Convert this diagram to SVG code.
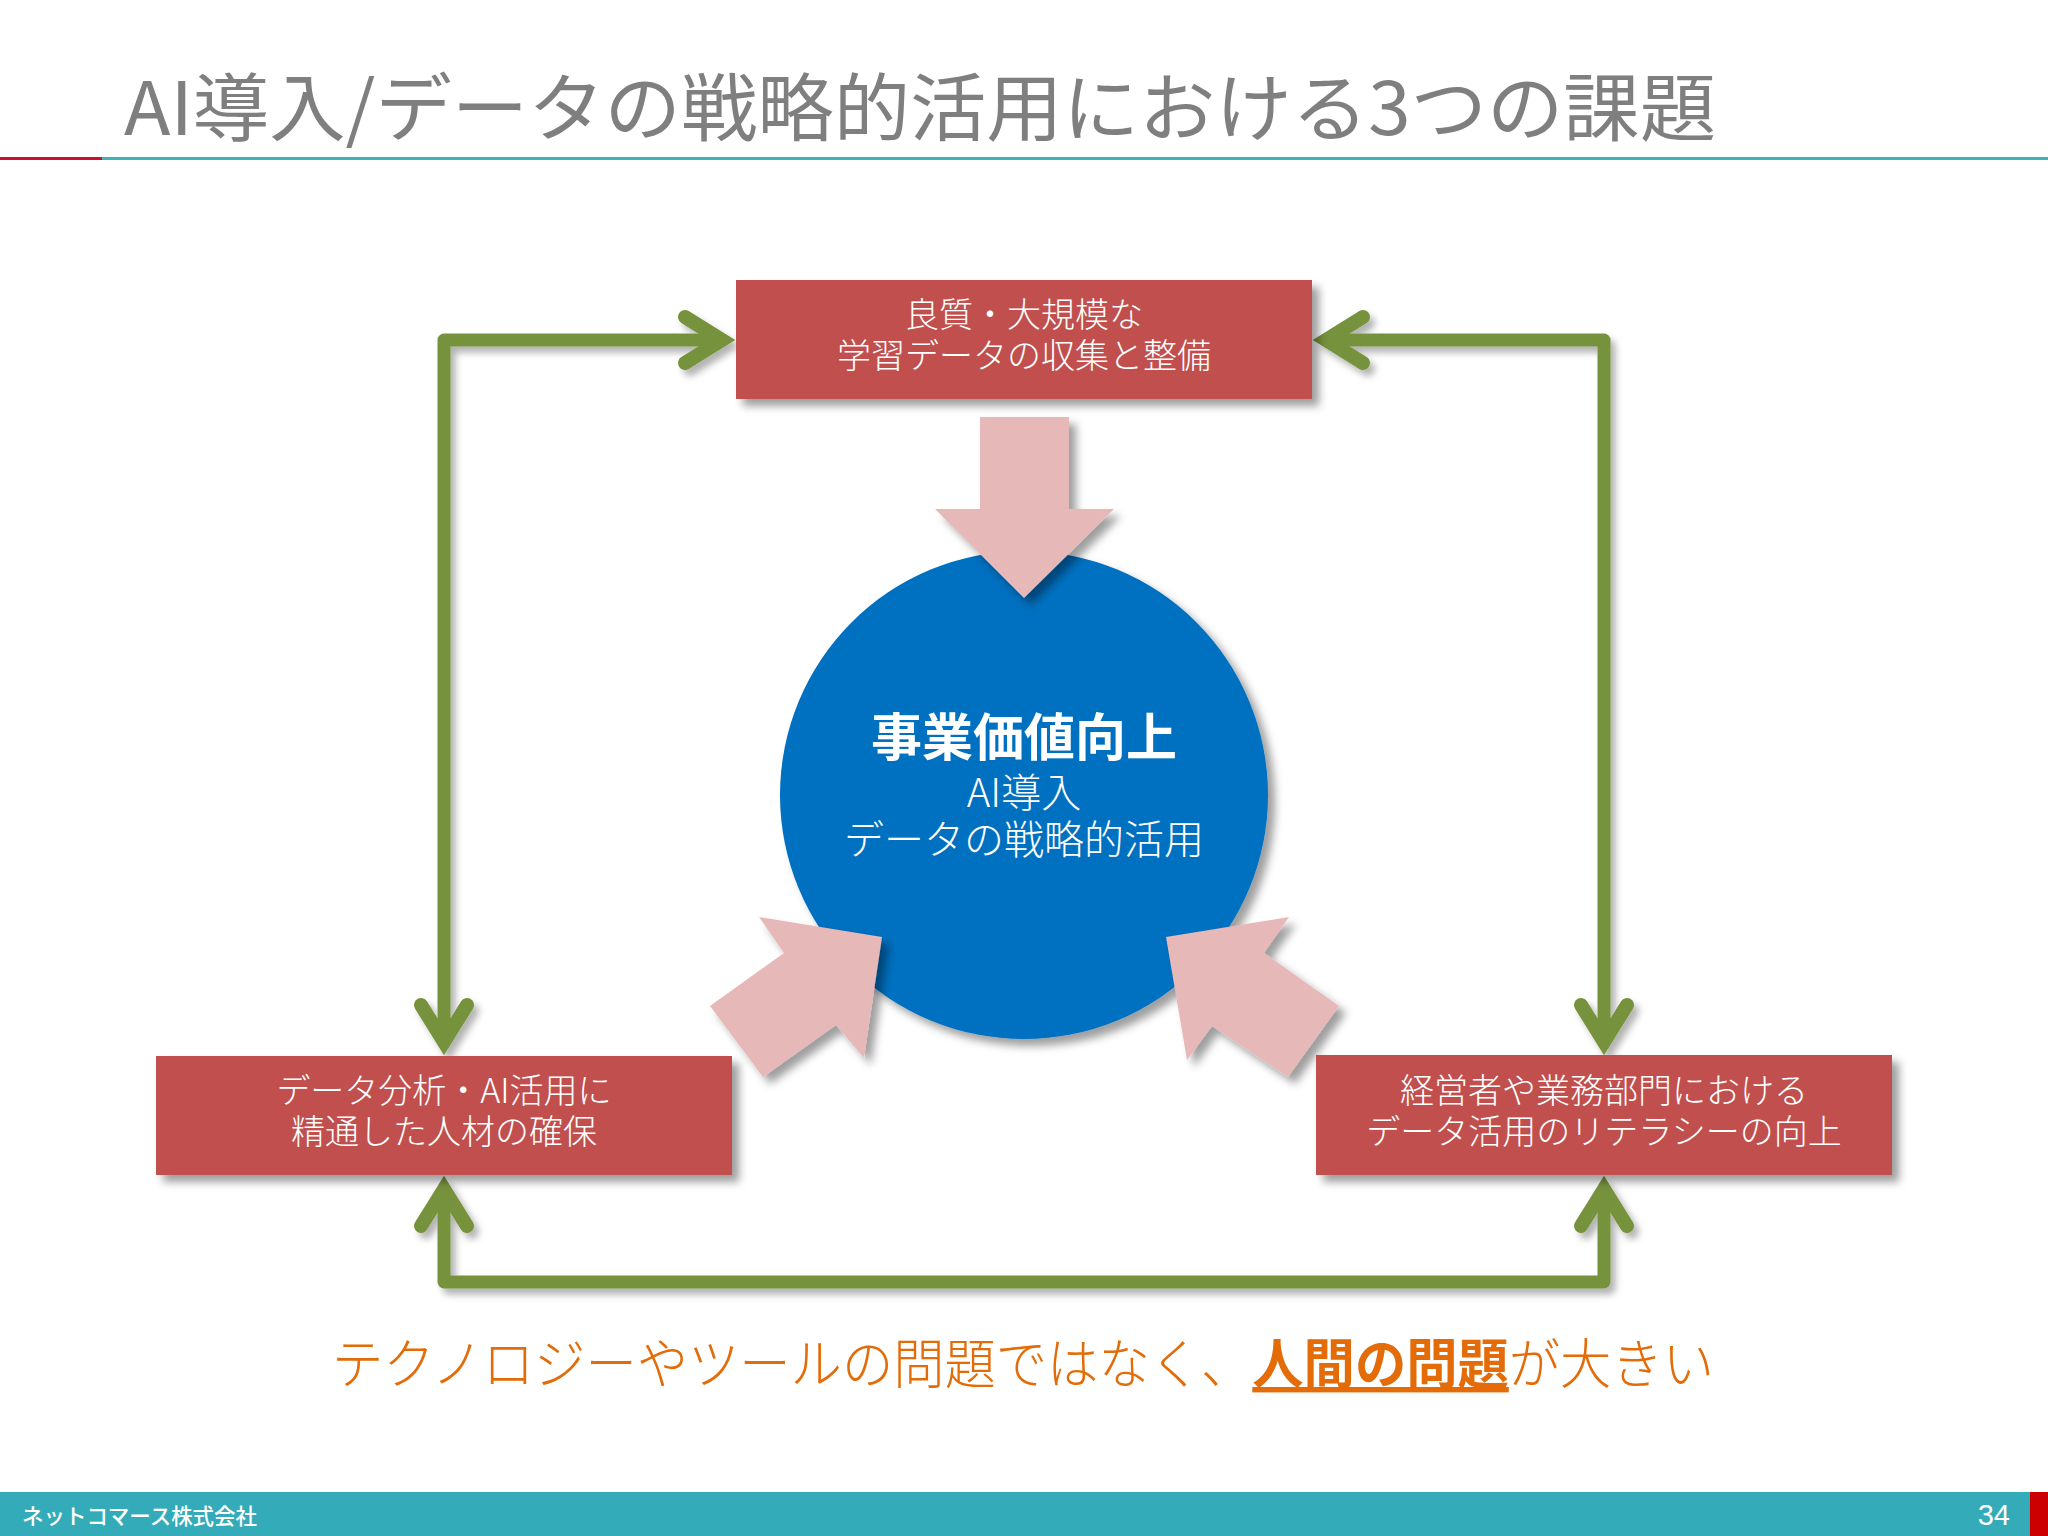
<svg xmlns="http://www.w3.org/2000/svg" width="2048" height="1536" viewBox="0 0 2048 1536">
<style>
text{font-family:"Noto Sans CJK JP","Noto Sans",sans-serif;}
.box{fill:#C0504D;filter:url(#sh);}
.pink{fill:#E6B8B7;filter:url(#sh);}
.lab{fill:#fff;font-size:34px;text-anchor:middle;font-weight:300;}
.conn{fill:none;stroke:#76923C;stroke-width:13;stroke-linejoin:round;marker-start:url(#chev);marker-end:url(#chev);}
</style>
<defs>
<filter id="sh" x="-20%" y="-20%" width="140%" height="140%"><feDropShadow dx="7" dy="7" stdDeviation="4.5" flood-color="#000" flood-opacity="0.38"/></filter>
<filter id="shl" x="-5%" y="-5%" width="110%" height="110%"><feDropShadow dx="5" dy="6" stdDeviation="3.5" flood-color="#000" flood-opacity="0.3"/></filter>
<marker id="chev" markerUnits="userSpaceOnUse" viewBox="-50 -35 70 70" refX="0" refY="0" markerWidth="70" markerHeight="70" orient="auto-start-reverse"><path d="M-37 -23L0 0L-37 23" fill="none" stroke="#76923C" stroke-width="14" stroke-linecap="round" stroke-linejoin="miter" stroke-miterlimit="6"/></marker>
</defs>
<rect width="2048" height="1536" fill="#fff"/>
<g id="title">
<text x="124" y="135" font-size="74" fill="#7F7F7F" font-weight="400" textLength="1592" lengthAdjust="spacingAndGlyphs">AI導入/データの戦略的活用における3つの課題</text>
<rect x="0" y="157" width="102" height="3" fill="#C8102E"/>
<rect x="102" y="157" width="1946" height="3" fill="#3FB2BA"/>
</g>
<g id="connectors" filter="url(#shl)">
<path class="conn" d="M722 340H444V1042"/>
<path class="conn" d="M1326 340H1604V1042"/>
<path class="conn" d="M444 1189V1282H1604V1189"/>
</g>
<g id="center">
<circle cx="1024" cy="795" r="244" fill="#0070C0" filter="url(#sh)"/>
<text x="1024" y="756" font-size="51" font-weight="700" fill="#fff" text-anchor="middle">事業価値向上</text>
<text x="1024" y="807" font-size="40" font-weight="300" fill="#fff" text-anchor="middle">AI導入</text>
<text x="1024" y="854" font-size="40" font-weight="300" fill="#fff" text-anchor="middle">データの戦略的活用</text>
</g>
<g id="arrow-top"><path class="pink" d="M980 417H1069V509H1114L1024 598L935 509H980Z"/></g>
<g id="arrow-left"><path class="pink" d="M759 917L882 937L864 1058L836 1025L763 1077L710 1006L784 953Z"/></g>
<g id="arrow-right"><path class="pink" d="M1166 937L1289 917L1264 953L1339 1006L1288 1077L1212 1026L1187 1060Z"/></g>
<g id="node-top">
<rect class="box" x="736" y="280" width="576" height="119"/>
<text class="lab" x="1024" y="327">良質・大規模な</text>
<text class="lab" x="1024" y="368">学習データの収集と整備</text>
</g>
<g id="node-left">
<rect class="box" x="156" y="1056" width="576" height="119"/>
<text class="lab" x="444" y="1103">データ分析・AI活用に</text>
<text class="lab" x="444" y="1144">精通した人材の確保</text>
</g>
<g id="node-right">
<rect class="box" x="1316" y="1055" width="576" height="120"/>
<text class="lab" x="1604" y="1103">経営者や業務部門における</text>
<text class="lab" x="1604" y="1144">データ活用のリテラシーの向上</text>
</g>
<g id="message">
<text x="332" y="1384" font-size="54" fill="#E36C09" font-weight="300" textLength="1382" lengthAdjust="spacingAndGlyphs">テクノロジーやツールの問題ではなく、<tspan font-weight="700" text-decoration="underline">人間の問題</tspan>が大きい</text>
</g>
<g id="footer">
<rect x="0" y="1492" width="2048" height="44" fill="#34ABB9"/>
<rect x="2030" y="1492" width="18" height="44" fill="#CC0000"/>
<text x="22" y="1524" font-size="21.5" fill="#fff" font-weight="500" textLength="235" lengthAdjust="spacingAndGlyphs">ネットコマース株式会社</text>
<text x="2010" y="1525" font-size="29" fill="#fff" text-anchor="end" style="font-family:'Liberation Sans',sans-serif">34</text>
</g>
</svg>
